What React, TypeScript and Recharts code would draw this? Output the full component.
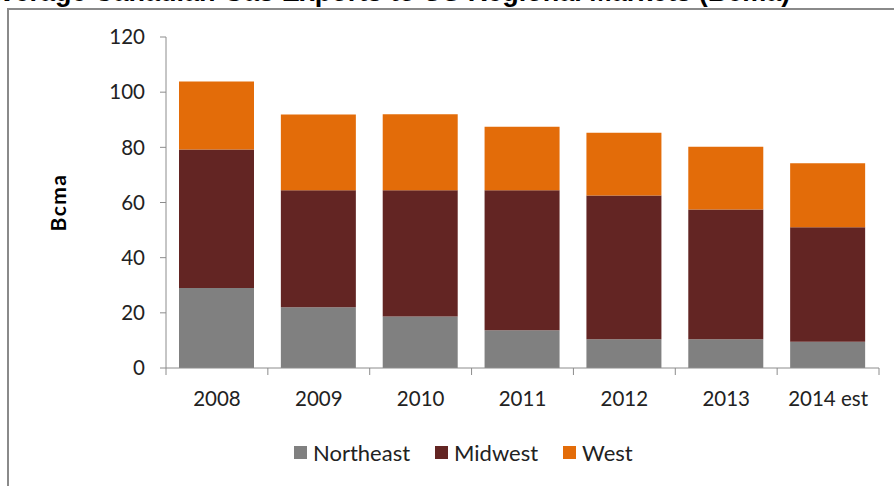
import React from "react";
import {
  BarChart,
  Bar,
  XAxis,
  YAxis,
  Legend,
} from "recharts";

const years = ["2008", "2009", "2010", "2011", "2012", "2013", "2014 est"];
const northeast = [29, 22, 18.7, 13.7, 10.4, 10.4, 9.5];
const midwest = [50.2, 42.4, 45.7, 50.7, 52.1, 47.1, 41.5];
const west = [24.7, 27.5, 27.6, 23.1, 22.8, 22.7, 23.2];
const yTicks = [0, 20, 40, 60, 80, 100, 120];
const seriesOrder = ["Northeast", "Midwest", "West"];

const data = years.map((year, i) => ({
  year,
  Northeast: northeast[i],
  Midwest: midwest[i],
  West: west[i],
}));

const axisGray = "#8c8c8c";
const textColor = "#222222";
const font = "Lato, 'Open Sans', sans-serif";

// Excel-style category axis: tick marks sit between categories, not under them
function CategoryTick(props: any) {
  const { x, y, payload, index, visibleTicksCount } = props;
  const half = payload.offset ?? 0;
  const isLast = index === visibleTicksCount - 1;
  return (
    <g>
      <line x1={x - half} x2={x - half} y1={y} y2={y + 7} stroke={axisGray} />
      {isLast && (
        <line x1={x + half} x2={x + half} y1={y} y2={y + 7} stroke={axisGray} />
      )}
      <text
        x={x}
        y={y + 23}
        dy="0.71em"
        textAnchor="middle"
        fill={textColor}
        fontFamily={font}
        fontSize={20.5}
      >
        {payload.value}
      </text>
    </g>
  );
}

function LegendContent(props: any) {
  const items = [...(props.payload || [])].sort(
    (a: any, b: any) => seriesOrder.indexOf(a.value) - seriesOrder.indexOf(b.value),
  );
  return (
    <div
      style={{
        display: "flex",
        alignItems: "center",
        height: 24,
        paddingLeft: 294,
        fontFamily: font,
        fontSize: 22,
        color: textColor,
      }}
    >
      {items.map((entry: any) => (
        <div
          key={entry.value}
          style={{ display: "flex", alignItems: "center", marginRight: 25 }}
        >
          <div
            style={{
              width: 13,
              height: 13,
              backgroundColor: entry.color,
              marginRight: 6,
            }}
          />
          <span>{entry.value}</span>
        </div>
      ))}
    </div>
  );
}

export default function App() {
  return (
    <div
      style={{
        position: "relative",
        width: 894,
        height: 486,
        overflow: "hidden",
        background: "white",
      }}
    >
      <style>{"body{margin:0}"}</style>
      <div
        style={{
          position: "absolute",
          left: -19,
          top: -21,
          whiteSpace: "nowrap",
          fontFamily: "'Liberation Sans', Arial, sans-serif",
          fontWeight: 700,
          fontSize: 27,
          lineHeight: "27px",
          color: "#000",
        }}
      >
        Average Canadian Gas Exports to US Regional Markets (Bcma)
      </div>
      <div
        style={{
          position: "absolute",
          left: 7,
          top: 8,
          width: 1000,
          height: 600,
          border: "2px solid #8a8a8a",
        }}
      />
      <div style={{ position: "absolute", left: 0, top: 0 }}>
        <BarChart
          width={894}
          height={486}
          data={data}
          margin={{ top: 37, right: 15, left: 0, bottom: 22 }}
        >
          <XAxis
            dataKey="year"
            axisLine={{ stroke: axisGray }}
            tickLine={false}
            tickSize={0}
            tickMargin={0}
            height={72}
            interval={0}
            tick={<CategoryTick />}
          />
          <YAxis
            domain={[0, 120]}
            ticks={yTicks}
            width={166}
            axisLine={{ stroke: axisGray }}
            tickLine={{ stroke: axisGray }}
            tickSize={6}
            tickMargin={15}
            tick={{ fill: textColor, fontFamily: font, fontSize: 20.5 }}
            label={({ viewBox }: any) => (
              <text
                x={viewBox.x + 57}
                y={viewBox.y + viewBox.height / 2}
                transform={`rotate(-90, ${viewBox.x + 57}, ${viewBox.y + viewBox.height / 2})`}
                textAnchor="middle"
                dominantBaseline="central"
                fill="#000"
                fontFamily={font}
                fontWeight={700}
                fontSize={21}
                letterSpacing={1.5}
              >
                Bcma
              </text>
            )}
          />
          <Legend
            verticalAlign="bottom"
            content={<LegendContent />}
            wrapperStyle={{ left: 0, width: 894 }}
          />
          <Bar dataKey="Northeast" stackId="a" fill="#808080" barSize={75} isAnimationActive={false} />
          <Bar dataKey="Midwest" stackId="a" fill="#632523" barSize={75} isAnimationActive={false} />
          <Bar dataKey="West" stackId="a" fill="#E36C09" barSize={75} isAnimationActive={false} />
        </BarChart>
      </div>
    </div>
  );
}
